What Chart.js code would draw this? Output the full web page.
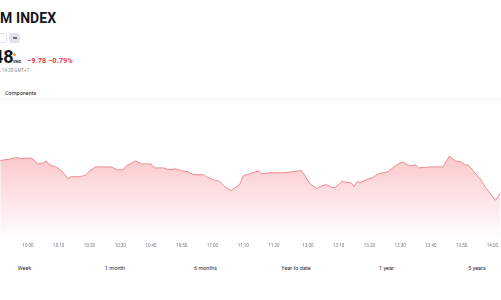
<!DOCTYPE html>
<html>
<head>
<meta charset="utf-8">
<script src="https://cdn.jsdelivr.net/npm/chart.js@4"></script>
<style>
  html, body { margin: 0; padding: 0; background: #fff; overflow: hidden; }
  body { width: 501px; height: 300px; position: relative; font-family: Roboto, "Noto Sans", sans-serif; color: #131722; }
  .abs { position: absolute; white-space: nowrap; }
  #title { left: 0; top: 10px; font-size: 14px; font-weight: 700; letter-spacing: 0.1px; }
  .pill { top: 33px; height: 10px; border-radius: 3px; }
  #pill1 { left: -6px; width: 11px; border: 1px solid #e0e3eb; height: 8px; background: #fff; }
  #pill2 { left: 9px; width: 11px; background: #e0e3eb; }
  #pill2:after { content: ""; position: absolute; left: 4px; top: 4px; width: 4px; height: 1.5px; background: #6a6d78; }
  #price { left: -7px; top: 46px; font-size: 18px; font-weight: 700; }
  #dot { left: 13px; top: 53px; width: 3px; height: 3px; border-radius: 50%; background: #f7a600; }
  #cur { left: 13px; top: 59px; font-size: 4px; font-weight: 700; color: #131722; }
  #chg { left: 27px; top: 56px; font-size: 7.3px; font-weight: 700; color: #f23645; letter-spacing: 0.1px; }
  #time { left: 0; top: 68px; font-size: 4.5px; color: #8a8d96; }
  #tab { left: 5px; top: 90px; font-size: 5.5px; color: #131722; }
  #sep { left: 0; top: 99px; width: 501px; height: 1px; background: #f0f3fa; }
  #wrap { position: absolute; left: 0; top: 100px; width: 501px; height: 152px; }
  .rng { top: 265px; font-size: 5.5px; color: #2a2e39; transform: translateX(-50%); }
</style>
</head>
<body>
<div class="abs" id="title">M INDEX</div>
<div class="abs pill" id="pill1"></div>
<div class="abs pill" id="pill2"></div>
<div class="abs" id="price">48</div>
<div class="abs" id="dot"></div>
<div class="abs" id="cur">VND</div>
<div class="abs" id="chg">−9.78 −0.79%</div>
<div class="abs" id="time">, 14:30 GMT+7</div>
<div class="abs" id="tab">Components</div>
<div class="abs" id="sep"></div>
<div id="wrap"><canvas id="chart"></canvas></div>
<div id="ranges"></div>
<script>
// intraday prices
const times = [
  "09:51", "09:54", "09:56", "09:58", "10:01", "10:02", "10:03", "10:05", "10:06", "10:07",
  "10:09", "10:11", "10:13", "10:14", "10:17", "10:19", "10:20", "10:22", "10:25", "10:27",
  "10:29", "10:31", "10:32", "10:35", "10:37", "10:40", "10:41", "10:44", "10:46", "10:48",
  "10:50", "10:52", "10:54", "10:57", "10:58", "11:01", "11:02", "11:04", "11:06", "11:08",
  "11:09", "11:10", "11:12", "11:14", "11:15", "11:16", "11:18", "11:20", "11:23", "11:26",
  "11:28", "11:29", "13:00", "13:01", "13:03", "13:04", "13:06", "13:08", "13:09", "13:11",
  "13:14", "13:15", "13:16", "13:17", "13:19", "13:21", "13:23", "13:26", "13:28", "13:30",
  "13:31", "13:33", "13:35", "13:36", "13:40", "13:43", "13:44", "13:46", "13:48", "13:50",
  "13:51", "13:52", "13:53", "13:54", "13:56", "13:58", "14:01", "14:03"
];
const prices = [
  1238.45, 1238.88, 1239.32, 1239.03, 1239.17, 1238.60, 1237.45, 1237.73, 1238.31, 1237.16,
  1236.58, 1235.43, 1233.13, 1233.71, 1233.71, 1234.28, 1235.43, 1236.58, 1236.58, 1236.58,
  1235.72, 1235.72, 1236.87, 1238.31, 1237.45, 1237.45, 1236.29, 1236.29, 1235.72, 1236.01,
  1235.43, 1235.14, 1234.28, 1234.28, 1233.71, 1232.55, 1232.55, 1230.83, 1229.68, 1230.83,
  1231.69, 1233.99, 1234.57, 1235.14, 1235.43, 1234.57, 1234.86, 1234.86, 1234.86, 1235.14,
  1235.43, 1235.43, 1232.55, 1231.40, 1230.25, 1230.83, 1231.40, 1230.54, 1230.54, 1232.27,
  1231.98, 1230.83, 1232.27, 1231.98, 1232.84, 1233.42, 1234.57, 1235.14, 1236.58, 1237.73,
  1238.02, 1236.87, 1237.16, 1236.29, 1236.58, 1236.58, 1236.58, 1239.75, 1238.31, 1238.02,
  1237.16, 1237.16, 1236.29, 1235.14, 1233.13, 1230.25, 1226.80, 1229.39
];
const tickLabels = [
  "10:00", "10:10", "10:20", "10:30", "10:40", "10:50", "11:00", "11:10", "11:20",
  "13:00", "13:10", "13:20", "13:30", "13:40", "13:50", "14:00"
];
const rangeLabels = ["Week", "1 month", "6 months", "Year to date", "1 year", "5 years"];

// session minutes: morning counted from 09:00, lunch break squeezed to one minute
function toMin(t) {
  const [h, m] = t.split(":").map(Number);
  if (h < 13) return (h - 9) * 60 + m;
  return 151 + (h - 13) * 60 + m;
}
function fromMin(v) {
  let h, m;
  if (v <= 150) { h = 9 + Math.floor(v / 60); m = v % 60; }
  else { const r = v - 151; h = 13 + Math.floor(r / 60); m = r % 60; }
  return String(h).padStart(2, "0") + ":" + String(Math.round(m)).padStart(2, "0");
}

const ranges = document.getElementById("ranges");
rangeLabels.forEach((r, i) => {
  const d = document.createElement("div");
  d.className = "abs rng";
  d.style.left = (24.5 + i * 90.5) + "px";
  d.textContent = r;
  ranges.appendChild(d);
});

const pxPerMin = 3.08;
const xMin = 60 - 28 / pxPerMin;
const xMax = xMin + 501 / pxPerMin;

const ctx = document.getElementById("chart").getContext("2d");
new Chart(ctx, {
  type: "line",
  data: {
    datasets: [{
      data: times.map((t, i) => ({ x: toMin(t), y: prices[i] })),
      borderColor: "#ef8a90",
      borderWidth: 1,
      pointRadius: 0,
      tension: 0,
      fill: "start",
      backgroundColor: (c) => {
        const area = c.chart.chartArea;
        if (!area) return "rgba(242,54,69,0.2)";
        const g = c.chart.ctx.createLinearGradient(0, area.top + 50, 0, area.bottom);
        g.addColorStop(0, "rgba(242,54,69,0.28)");
        g.addColorStop(1, "rgba(242,54,69,0.0)");
        return g;
      }
    }]
  },
  options: {
    responsive: true,
    maintainAspectRatio: false,
    animation: false,
    layout: { padding: { top: 4, left: 0, right: 0, bottom: 0 } },
    plugins: { legend: { display: false }, tooltip: { enabled: false } },
    scales: {
      x: {
        type: "linear",
        min: xMin,
        max: xMax,
        grid: { display: false, drawTicks: false },
        border: { display: false },
        afterBuildTicks: (axis) => { axis.ticks = tickLabels.map(t => ({ value: toMin(t) })); },
        ticks: {
          autoSkip: false,
          maxRotation: 0,
          padding: 3,
          color: "#787b86",
          font: { size: 4.5, family: "Roboto" },
          callback: (v) => fromMin(v)
        }
      },
      y: { display: false, min: 1215, max: 1255 }
    }
  }
});
</script>
</body>
</html>
